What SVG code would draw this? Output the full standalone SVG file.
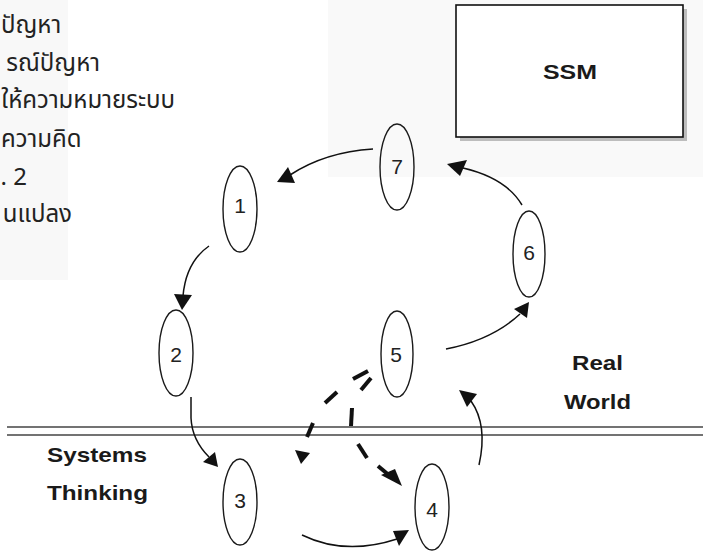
<svg xmlns="http://www.w3.org/2000/svg" width="703" height="552" viewBox="0 0 703 552">
<style>
.node ellipse{fill:none;stroke:#1a1a1a;stroke-width:1.4}
.num{font-family:"Liberation Sans","DejaVu Sans",sans-serif;font-size:21px;fill:#222;text-anchor:middle}
.thai{font-family:"Noto Sans Thai","Noto Sans","DejaVu Sans",sans-serif;font-size:24px;fill:#222;text-anchor:end}
.thai.st{text-anchor:start}
.lbl{font-family:"Liberation Sans","Arial",sans-serif;font-weight:bold;font-size:21px;fill:#1a1a1a}
.ln{fill:none;stroke:#111;stroke-width:1.5}
.dash{stroke:#111;stroke-width:4;stroke-linecap:butt}
.head{fill:#111}
.rule{stroke:#444;stroke-width:1.4}
</style>
<rect width="703" height="552" fill="#fff"/>
<rect x="0" y="0" width="68" height="280" fill="#f8f8f8"/>
<rect x="328" y="0" width="375" height="177" fill="#f9f9f9"/>
<g id="notes">
<text class="thai st" x="1" y="33">ปัญหา</text>
<text class="thai" x="100" y="71">รณ์ปัญหา</text>
<text class="thai" x="175" y="108">ให้ความหมายระบบ</text>
<text class="thai st" x="1" y="147">ความคิด</text>
<text class="thai" x="27" y="185">. 2</text>
<text class="thai" x="72" y="222">นแปลง</text>
</g>
<g id="ssm">
<rect x="460" y="9" width="227" height="132" fill="#bdbdbd"/>
<rect x="456" y="5" width="227" height="132" fill="#fff" stroke="#111" stroke-width="1.6"/>
<text class="lbl" x="570" y="79" font-size="23" text-anchor="middle" textLength="54" lengthAdjust="spacingAndGlyphs">SSM</text>
</g>
<g id="divider">
<line class="rule" x1="7" y1="427" x2="703" y2="427"/>
<line class="rule" x1="7" y1="435" x2="703" y2="435"/>
</g>
<g id="labels">
<text class="lbl" x="47" y="462" textLength="100" lengthAdjust="spacingAndGlyphs">Systems</text>
<text class="lbl" x="47" y="500" textLength="101" lengthAdjust="spacingAndGlyphs">Thinking</text>
<text class="lbl" x="572" y="370" font-size="22" textLength="51" lengthAdjust="spacingAndGlyphs">Real</text>
<text class="lbl" x="564" y="409" font-size="22" textLength="67" lengthAdjust="spacingAndGlyphs">World</text>
</g>
<g id="n1" class="node"><ellipse cx="240" cy="209" rx="17" ry="43"/><text class="num" x="240" y="213">1</text></g>
<g id="n2" class="node"><ellipse cx="176" cy="353" rx="17" ry="43"/><text class="num" x="176" y="362">2</text></g>
<g id="n3" class="node"><ellipse cx="240" cy="502" rx="17" ry="43"/><text class="num" x="240" y="508">3</text></g>
<g id="n4" class="node"><ellipse cx="432" cy="507" rx="17" ry="43"/><text class="num" x="432" y="517">4</text></g>
<g id="n5" class="node"><ellipse cx="397" cy="354" rx="16" ry="43"/><text class="num" x="396" y="362">5</text></g>
<g id="n6" class="node"><ellipse cx="529" cy="254" rx="16" ry="43"/><text class="num" x="529" y="260">6</text></g>
<g id="n7" class="node"><ellipse cx="397" cy="167" rx="17" ry="43"/><text class="num" x="397" y="174">7</text></g>
<g id="connectors">
<path class="ln" d="M373,149 Q325,152 290,175"/>
<polygon class="head" points="277,182 288,167 295,183"/>
<path class="ln" d="M209,246 Q186,262 183,296"/>
<polygon class="head" points="182,310 174,294 192,295"/>
<path class="ln" d="M191,397 L191,418 Q192,440 209,457"/>
<polygon class="head" points="218,467 203,462 215,452"/>
<path class="ln" d="M302,535 Q345,556 397,539"/>
<polygon class="head" points="409,530 393,531 399,546"/>
<path class="ln" d="M479,465 Q488,425 471,401"/>
<polygon class="head" points="459,390 477,394 467,407"/>
<path class="ln" d="M446,349 Q492,340 520,314"/>
<polygon class="head" points="529,302 514,309 527,318"/>
<path class="ln" d="M522,205 Q506,178 463,168"/>
<polygon class="head" points="447,164 467,160 460,176"/>
<line class="dash" x1="353" y1="379" x2="368" y2="371"/>
<line class="dash" x1="361" y1="390" x2="371" y2="378"/>
<line class="dash" x1="325" y1="403" x2="337" y2="392"/>
<line class="dash" x1="307" y1="437" x2="313" y2="423"/>
<polygon class="head" points="301,464 295,450 310,453"/>
<line class="dash" x1="352" y1="408" x2="351" y2="426"/>
<line class="dash" x1="358" y1="444" x2="367" y2="458"/>
<line class="dash" x1="378" y1="466" x2="390" y2="476"/>
<polygon class="head" points="402,486 381,475 395,469"/>
</g>
</svg>
